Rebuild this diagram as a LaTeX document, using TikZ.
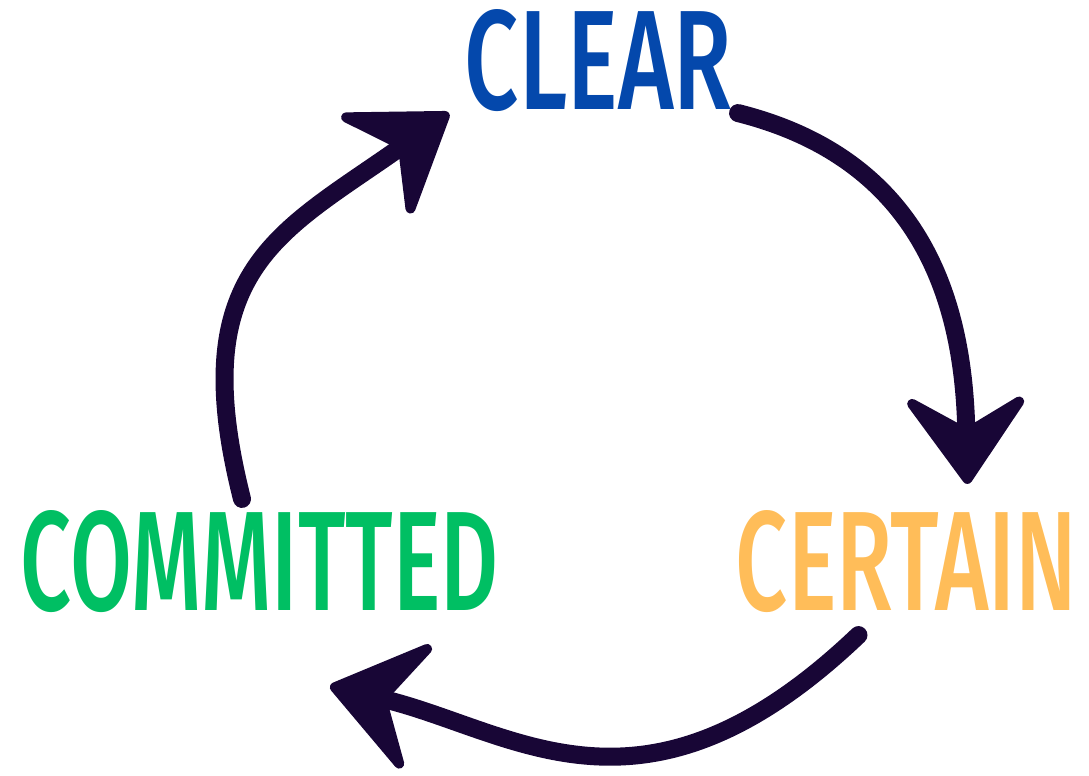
\documentclass[tikz,border=0pt]{standalone}
\usepackage{fontspec}
\usepackage{graphicx}
\usetikzlibrary{arrows.meta}

\newfontfamily\wordfont{Fira Sans Medium}
\definecolor{clearblue}{RGB}{4,72,172}
\definecolor{certainorange}{RGB}{255,189,89}
\definecolor{committedgreen}{RGB}{0,191,99}
\definecolor{ink}{RGB}{24,6,54}

% condensed capitals, squeezed into a fixed box
\newcommand{\wordbox}[2]{\resizebox{#1}{50pt}{\wordfont #2}}

\begin{document}
\begin{tikzpicture}[
            x = 0.5pt, y = -0.5pt,
            word/.style = {
                inner sep = 0pt,
                outer sep = 0pt,
            },
            brush/.style = {
                draw = ink,
                line width = 9pt,
                line cap = round,
            },
        ]
        \useasboundingbox (0,0) rectangle (1089,776);

        % Woorden
        \node[word, text = clearblue] (clear) at (598.5,61) {\wordbox{133.5pt}{CLEAR}};
        \node[word, text = certainorange] (certain) at (906.5,562) {\wordbox{170.5pt}{CERTAIN}};
        \node[word, text = committedgreen] (committed) at (260,562) {\wordbox{239pt}{COMMITTED}};

        % Pijlen
        \draw[brush, -{Stealth[length = 50pt, width = 70pt, inset = 20pt, round, line width = 5pt]}]
            ([shift = {(6,1)}]clear.south east)
            .. controls +(187,47) and +(-4,-178) ..
            ([shift = {(61,-27)}]certain.north);
        \draw[brush, -{Stealth[length = 52pt, width = 76pt, inset = 21pt, round, line width = 5pt]}]
            ([shift = {(-48,22)}]certain.south)
            .. controls +(-215,205) and +(185,45) ..
            ([shift = {(-169,73)}]committed.south east);
        \draw[brush, -{Stealth[length = 52pt, width = 71pt, inset = 19pt, round, line width = 5pt]}]
            ([shift = {(-18,-12)}]committed.north)
            .. controls +(-58,-229) and +(-170,120) ..
            ([shift = {(-16,1)}]clear.south west);

    \end{tikzpicture}
\end{document}
